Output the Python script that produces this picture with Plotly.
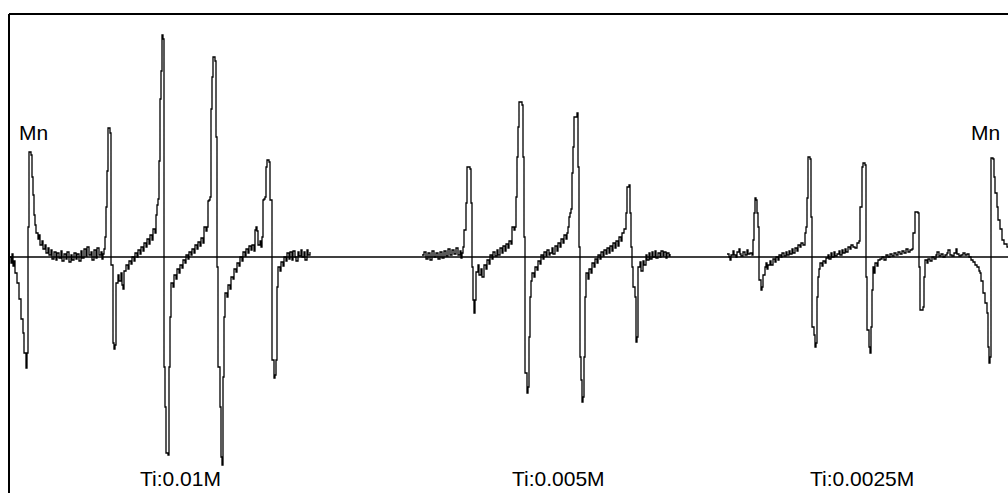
import plotly.graph_objects as go

seg_001M = [
    (10,0),(11,-6),(12,3),(13,-9),(14,-4),(15,-16),(17,-26),(19,-42),(21,-62),(23,-76),(24,-96),(26,-111),(27,-96),
    (28,30),(29,105),(31,102),(32,80),(33,62),(34,42),(35,32),(36,24),(38,18),(39,22),(40,12),(42,16),(43,8),
    (45,12),(46,4),(48,9),(49,2),(51,7),(52,-2),(54,5),(56,-3),(57,4),(59,-1),(61,6),(62,-4),(64,3),(66,-2),
    (67,5),(69,-5),(71,2),(72,-3),(74,4),(76,-2),(77,3),(79,-4),(81,6),(82,-1),(84,8),(86,1),(87,10),(89,2),
    (91,5),(92,-3),(94,7),(96,-1),(97,9),(99,2),(101,5),(102,-2),(103,3),(104,8),(105,20),(106,50),(107,86),
    (108,129),(110,124),(111,-8),(113,-86),(114,-92),(115,-88),(116,-26),(118,-18),(119,-24),(121,-16),(122,-28),
    (123,-32),(124,-14),(126,-8),(128,-12),(129,-4),(131,-7),(132,0),(134,-4),(135,4),(137,0),(138,7),(140,3),
    (141,10),(143,6),(144,14),(146,10),(147,18),(149,13),(150,22),(152,17),(153,28),(155,24),(156,42),(157,52),
    (158,58),(159,96),(160,158),(161,186),(162,222),(163,218),(164,-110),(165,-150),(166,-196),(168,-198),
    (169,-110),(170,-60),(171,-26),(173,-30),(174,-18),(176,-22),(177,-12),(179,-16),(180,-8),(182,-11),(183,-3),
    (185,-6),(186,2),(188,-2),(189,5),(191,2),(192,8),(194,4),(195,12),(197,8),(198,15),(200,11),(201,19),
    (203,14),(204,30),(206,26),(207,30),(208,56),(209,57),(210,60),(211,148),(212,180),(213,200),(215,196),
    (216,120),(217,-10),(218,-110),(220,-150),(221,-200),(222,-208),(223,-120),(224,-60),(225,-36),(227,-40),
    (228,-28),(230,-32),(231,-20),(233,-22),(234,-12),(236,-15),(237,-6),(239,-9),(240,0),(242,-4),(243,5),
    (245,1),(246,8),(248,4),(249,11),(251,7),(252,12),(254,6),(255,27),(256,30),(257,26),(258,12),(260,16),
    (261,10),(262,20),(263,57),(264,58),(265,60),(266,90),(267,97),(269,95),(270,57),(272,-103),(274,-121),
    (275,-118),(276,-103),(277,-30),(278,-10),(280,-14),(281,-5),(283,-9),(284,0),(286,-4),(287,4),(289,-2),
    (290,5),(292,-3),(293,6),(295,0),(296,-4),(298,5),(299,1),(301,7),(302,0),(304,5),(305,-3),(307,7),(308,2),
    (310,5),
]

seg_0005M = [
    (422,2),(424,5),(426,-2),(428,4),(430,-3),(432,6),(434,0),(436,4),(438,-2),(440,5),(442,-1),(444,6),(446,1),
    (448,8),(450,2),(452,7),(454,3),(456,9),(458,2),(460,6),(461,-1),(462,4),(463,10),(464,27),(466,54),(467,90),
    (470,88),(471,54),(472,-10),(473,-43),(474,-56),(475,-43),(476,-15),(478,-8),(479,-18),(481,-12),(482,-20),
    (484,-8),(486,-12),(487,-3),(489,-7),(490,2),(492,-2),(493,5),(495,1),(497,7),(498,2),(500,9),(502,4),
    (503,11),(505,6),(506,13),(508,9),(509,16),(511,13),(512,30),(514,27),(515,30),(516,60),(517,100),(518,130),
    (519,155),(522,152),(523,100),(524,20),(525,-116),(527,-136),(528,-130),(529,-80),(530,-40),(531,-24),
    (532,-16),(534,-20),(535,-10),(537,-13),(538,-4),(540,-7),(541,2),(543,-2),(544,5),(546,1),(547,7),(549,2),
    (550,4),(552,9),(553,3),(555,11),(557,6),(558,14),(560,10),(561,18),(563,14),(564,22),(566,18),(567,24),
    (568,30),(569,40),(570,44),(571,48),(572,84),(573,110),(574,140),(577,144),(578,90),(579,10),(580,-100),
    (581,-123),(582,-145),(583,-140),(584,-100),(585,-40),(586,-16),(588,-22),(589,-12),(591,-16),(592,-6),
    (594,-10),(595,-2),(597,-6),(598,2),(600,-2),(601,5),(603,1),(604,7),(606,3),(607,9),(609,4),(610,11),
    (612,6),(613,14),(615,9),(616,16),(618,11),(619,20),(621,16),(622,24),(624,28),(626,44),(627,70),(629,72),
    (630,44),(631,10),(632,-10),(633,-30),(635,-40),(636,-85),(637,-80),(638,-10),(640,-5),(641,-14),(643,-4),
    (644,-8),(646,2),(647,-3),(649,4),(650,-2),(652,5),(653,0),(655,6),(656,-1),(658,4),(660,0),(661,6),(663,1),
    (664,5),(666,-1),(667,4),(669,1),(670,3),
]

seg_00025M = [
    (727,3),(729,0),(730,-3),(731,2),(733,6),(734,2),(736,0),(737,5),(739,8),(740,3),(741,1),(743,5),(745,2),
    (747,7),(748,3),(750,4),(752,2),(753,17),(754,44),(755,59),(756,57),(757,44),(758,30),(759,-23),(761,-33),
    (762,-30),(763,-18),(765,-10),(766,-6),(767,-12),(768,-8),(770,-4),(771,-8),(773,-2),(775,-5),(776,0),
    (778,-3),(779,2),(781,0),(782,4),(784,1),(786,5),(787,2),(789,6),(790,3),(792,8),(793,4),(795,9),(797,6),
    (798,12),(800,10),(801,14),(803,12),(805,24),(806,30),(807,59),(808,100),(810,98),(811,40),(812,-70),
    (814,-78),(815,-90),(816,-86),(817,-40),(818,-20),(819,-12),(820,-6),(822,-9),(823,-4),(825,-6),(826,-1),
    (828,2),(829,-2),(831,4),(832,0),(834,5),(835,1),(837,3),(839,6),(840,2),(842,7),(843,4),(845,8),(846,5),
    (848,10),(850,8),(851,12),(853,10),(855,9),(857,14),(859,16),(860,50),(862,90),(863,94),(865,92),(866,-20),
    (867,-73),(869,-90),(870,-96),(871,-70),(872,-33),(873,-10),(874,-16),(875,-6),(877,-9),(878,-3),(880,-2),
    (882,0),(884,-3),(886,2),(888,0),(890,3),(892,1),(894,4),(896,2),(898,5),(900,3),(902,6),(904,4),(906,8),
    (908,5),(910,7),(912,8),(913,24),(915,45),(918,44),(919,-10),(920,-53),(923,-50),(924,-20),(925,-3),(927,-6),
    (928,-2),(930,-4),(932,0),(934,-2),(936,2),(937,5),(939,1),(941,3),(943,0),(945,2),(947,4),(948,7),(950,2),
    (952,1),(954,4),(956,8),(957,3),(959,1),(961,2),(963,4),(965,2),(967,3),(969,0),(971,-3),(973,-5),(975,-8),
    (977,-10),(979,-14),(980,-16),(981,-24),(983,-36),(985,-46),(987,-56),(988,-90),(989,-106),(990,-100),
    (991,99),(993,98),(994,80),(995,64),(997,50),(998,37),(1000,28),(1002,17),(1004,13),(1007,10),(1009,9),
]

labels_text = ["Mn", "Mn", "Ti:0.01M", "Ti:0.005M", "Ti:0.0025M"]
labels_x = [33, 985, 180, 558, 862]
labels_y = [125, 125, -221, -221, -221]

fig = go.Figure()
for seg in (seg_001M, seg_0005M, seg_00025M):
    xs, ys = zip(*seg)
    fig.add_trace(go.Scatter(
        x=list(xs), y=list(ys), mode="lines",
        line=dict(color="black", width=1.3, shape="hv"),
        hoverinfo="skip", showlegend=False,
    ))

for t, lx, ly in zip(labels_text, labels_x, labels_y):
    fig.add_annotation(x=lx, y=ly, xref="x", yref="y", text=t, showarrow=False,
                       font=dict(family="Liberation Sans, Arial, sans-serif", size=21, color="black"),
                       xanchor="center", yanchor="middle")

# baseline and frame
fig.add_shape(type="line", xref="paper", yref="y", x0=0, x1=1, y0=0, y1=0,
              line=dict(color="black", width=1.5))
fig.add_shape(type="line", xref="paper", yref="paper", x0=0, x1=0, y0=0, y1=1,
              line=dict(color="black", width=2))
fig.add_shape(type="line", xref="paper", yref="paper", x0=0, x1=1, y0=1, y1=1,
              line=dict(color="black", width=2))

fig.update_layout(
    width=1008, height=493,
    margin=dict(l=9, r=0, t=14, b=0, pad=0),
    paper_bgcolor="white", plot_bgcolor="white",
    showlegend=False,
    xaxis=dict(range=[9, 1008], visible=False, fixedrange=True),
    yaxis=dict(range=[-236, 243], visible=False, fixedrange=True),
)

fig.write_html("out.html", config={"displayModeBar": False})
